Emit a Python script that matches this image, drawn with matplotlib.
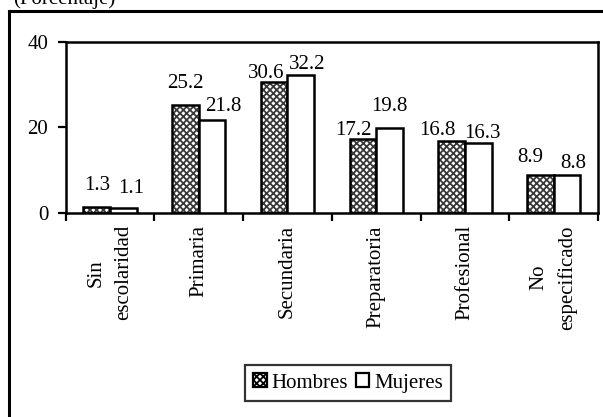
import matplotlib
matplotlib.use("Agg")
import matplotlib.pyplot as plt
from matplotlib.lines import Line2D
from matplotlib.patches import Patch
import numpy as np

categories = ["Sin\nescolaridad", "Primaria", "Secundaria", "Preparatoria", "Profesional", "No\nespecificado"]
hombres = [1.3, 25.2, 30.6, 17.2, 16.8, 8.9]
mujeres = [1.1, 21.8, 32.2, 19.8, 16.3, 8.8]
yticks = [0, 20, 40]
title = "(Porcentaje)"

# label offsets (pixels) relative to bar top centre
h_off = [(0, 17), (0, 17), (-8, 4), (-9, 4), (-14, 6), (-10, 13)]
m_off = [(8, 15), (11, 9), (6, 6), (0, 17), (4, 5), (6, 7)]

plt.rcParams['font.family'] = ['Liberation Serif', 'DejaVu Serif']
plt.rcParams['hatch.linewidth'] = 1.3
FS = 15

W, H = 603, 417
fig = plt.figure(figsize=(W / 100, H / 100), dpi=100)
ax = fig.add_axes([65.7 / W, 1 - 212.5 / H, (598 - 65.7) / W, (212.5 - 42) / H])

x = np.arange(len(categories))
bw = 0.3
# hatched fill for hombres
ax.bar(x - bw / 2, hombres, bw, color='white', edgecolor='#3a3a3a', hatch='xxxxx', linewidth=0, zorder=2)
ax.bar(x - bw / 2, hombres, bw, fill=False, edgecolor='black', linewidth=1.8, zorder=3)
ax.bar(x + bw / 2, mujeres, bw, color='white', edgecolor='black', linewidth=1.8, zorder=3)

for i, v in enumerate(hombres):
    ax.annotate(f"{v:.1f}", (x[i] - bw / 2, v), xytext=h_off[i], textcoords='offset pixels',
                ha='center', va='baseline', fontsize=FS)
for i, v in enumerate(mujeres):
    ax.annotate(f"{v:.1f}", (x[i] + bw / 2, v), xytext=m_off[i], textcoords='offset pixels',
                ha='center', va='baseline', fontsize=FS)

ax.set_xlim(-0.5, len(categories) - 0.5)
ax.set_ylim(0, 40)
ax.set_yticks(yticks)
ax.set_yticklabels([str(t) for t in yticks], fontsize=FS)
ax.set_xticks(np.arange(len(categories) + 1) - 0.5)
ax.set_xticklabels([])
ax.set_xticks(x, minor=True)
ax.set_xticklabels(categories, minor=True, rotation=90, fontsize=FS,
                   ha='center', va='top', multialignment='center', linespacing=1.6)
ax.tick_params(axis='x', which='minor', length=0, pad=9)
ax.tick_params(axis='both', which='major', direction='out', length=5.5, width=1.6)
ax.tick_params(axis='y', which='major', pad=7)
for s in ax.spines.values():
    s.set_linewidth(1.8)

handles = [Patch(facecolor='white', edgecolor='black', hatch='xxxxx', linewidth=1.6),
           Patch(facecolor='white', edgecolor='black', linewidth=1.6)]
leg = fig.legend(handles, ["Hombres", "Mujeres"], loc='center', bbox_to_anchor=(348 / W, 1 - 383 / H),
                 ncol=2, fontsize=FS, frameon=True, fancybox=False, handlelength=0.65, handleheight=0.65,
                 handletextpad=0.25, columnspacing=0.35, borderpad=0.4, borderaxespad=0)
leg.get_frame().set_edgecolor('black')
leg.get_frame().set_linewidth(1.6)

# outer frame (cropped)
fig.add_artist(Line2D([9 / W, 1.0], [1 - 11 / H, 1 - 11 / H], transform=fig.transFigure, color='black', linewidth=2.2))
fig.add_artist(Line2D([9 / W, 9 / W], [1 - 11 / H, 0], transform=fig.transFigure, color='black', linewidth=2.2))

fig.text(13 / W, 1 - 4 / H, title, ha='left', va='baseline', fontsize=FS)

fig.savefig("out.png", dpi=100)
